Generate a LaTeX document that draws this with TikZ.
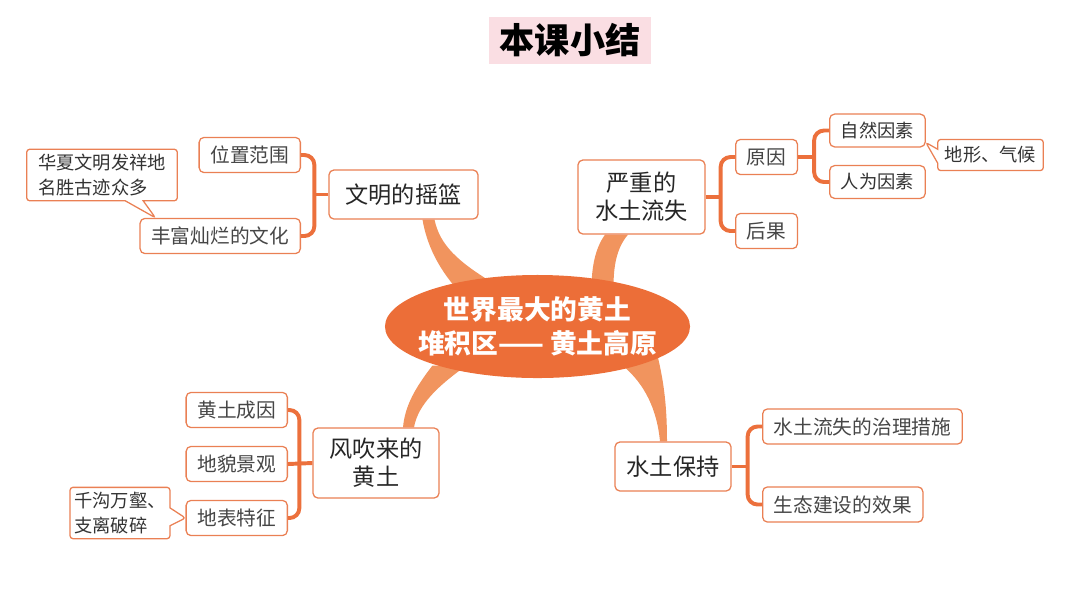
\documentclass[tikz,border=0pt]{standalone}
\usepackage{fontspec}
\setmainfont{Noto Sans CJK SC}
\usetikzlibrary{shapes.geometric, shapes.callouts, calc}

\definecolor{coreorange}{RGB}{236,110,56}
\definecolor{limborange}{RGB}{241,148,94}
\definecolor{linkorange}{RGB}{236,112,60}
\definecolor{boxline}{RGB}{234,128,84}
\definecolor{titlepink}{RGB}{250,222,227}
\definecolor{textgray}{RGB}{70,70,70}

\pgfdeclarelayer{bg}
\pgfsetlayers{bg,main}

\begin{document}
\begin{tikzpicture}[
  x=0.025cm, y=-0.025cm,
  mainbox/.style={rectangle, draw=boxline, line width=0.9pt, fill=white, rounded corners=3.5pt, align=center, text=black!85, font=\fontsize{16.5}{20}\selectfont, inner sep=0pt},
  subbox/.style={rectangle, draw=boxline, line width=0.9pt, fill=white, rounded corners=3.5pt, text=textgray, font=\fontsize{14}{17}\selectfont, minimum height=0.88cm, inner xsep=8pt, inner ysep=0pt},
  factor/.style={subbox, text=black!80, font=\fontsize{13}{16}\selectfont, minimum height=0.82cm},
  note/.style={rectangle callout, draw=boxline, line width=0.9pt, fill=white, rounded corners=2pt, align=left, text=black!80, font=\fontsize{13}{17.5}\selectfont, inner xsep=8pt, inner ysep=3.5pt, callout pointer width=0.45cm},
  bracket/.style={draw=linkorange, line width=2.8pt, rounded corners=7pt},
  limb/.style={fill=limborange}
]
\useasboundingbox (0,0) rectangle (1080,608);

% title
\node[fill=titlepink, minimum width=4.05cm, minimum height=1.175cm, font=\bfseries\fontsize{25}{30}\selectfont] (title) at (570,40.5) {本课小结};

% centre
\node[ellipse, fill=coreorange, minimum width=7.625cm, minimum height=2.575cm, inner xsep=-10pt, inner ysep=0pt, text=white, align=center, font=\bfseries\fontsize{19}{24}\selectfont] (core) at (537.5,326.5) {世界最大的黄土\\堆积区——\ 黄土高原};

% main topics
\node[mainbox, minimum width=3.725cm, minimum height=1.225cm] (cradle) at (403.5,194.5) {文明的摇篮};
\node[mainbox, minimum width=3.175cm, minimum height=1.85cm] (severe) at (641.5,197) {严重的\\水土流失};
\node[mainbox, minimum width=3.15cm, minimum height=1.75cm] (wind) at (376,463) {风吹来的\\黄土};
\node[mainbox, minimum width=2.9cm, minimum height=1.225cm] (keep) at (673,466.5) {水土保持};

% cradle branch
\node[subbox, anchor=east] (range) at (301,155) {位置范围};
\node[subbox, anchor=east] (culture) at (301,236) {丰富灿烂的文化};
\node[note, callout absolute pointer={($(culture.north west)+(16,0)$)}] (heritage) at (102,175) {华夏文明发祥地\\名胜古迹众多};

% soil loss branch
\node[subbox, anchor=west] (reason) at (735,157) {原因};
\node[subbox, anchor=west] (result) at (735,231) {后果};
\node[factor, anchor=west] (nature) at (829,130.5) {自然因素};
\node[factor, anchor=west] (human) at (829,182) {人为因素};
\node[note, inner xsep=5pt, inner ysep=5pt, callout pointer width=0.35cm, callout absolute pointer={($(nature.south east)+(0,-5)$)}] (terrain) at (990.5,155) {地形、气候};

% loess branch
\node[subbox, anchor=east] (origin) at (288,410) {黄土成因};
\node[subbox, anchor=east] (landform) at (288,464) {地貌景观};
\node[subbox, anchor=east] (surface) at (288,518) {地表特征};
\node[note, inner xsep=3pt, callout absolute pointer={(surface.west)}] (gully) at (120,513) {千沟万壑、\\支离破碎};

% conservation branch
\node[subbox, anchor=west] (measure) at (762,426.5) {水土流失的治理措施};
\node[subbox, anchor=west] (effect) at (762,504.5) {生态建设的效果};

% brackets
\coordinate (cj) at ($(cradle.west)+(-14,0)$);
\draw[bracket] (range.east) -| (cj) |- (culture.east);
\draw[bracket] (cradle.west) -- (cj);

\coordinate (sj) at ($(severe.east)+(15,0)$);
\draw[bracket] (reason.west) -| (sj) |- (result.west);
\draw[bracket] (severe.east) -- (sj);

\coordinate (rj) at ($(reason.east)+(16,0)$);
\draw[bracket] (nature.west) -| (rj) |- (human.west);
\draw[bracket] (reason.east) -- (rj);

\coordinate (wj) at ($(wind.west)+(-13,0)$);
\draw[bracket] (origin.east) -| (wj) |- (surface.east);
\draw[bracket] (landform.east) -- (wind.west);

\coordinate (kj) at ($(keep.east)+(16,0)$);
\draw[bracket] (measure.west) -| (kj) |- (effect.west);
\draw[bracket] (keep.east) -- (kj);

% tapered limbs from the centre
\begin{pgfonlayer}{bg}
\fill[limb] ($(core.center)+(-82,-39)$) .. controls +(-17,-20) and +(4.5,26) .. ($(cradle.south)+(19,0)$)
  -- ($(cradle.south)+(31,0)$) .. controls +(5.5,26) and +(-32,-20) .. ($(core.center)+(-47,-45)$) -- cycle;
\fill[limb] ($(core.center)+(54,-37)$) .. controls +(0,-22) and +(-10,14) .. ($(severe.south)+(-36.5,0)$)
  -- ($(severe.south)+(-13.5,0)$) .. controls +(-12,14) and +(0,-20) .. ($(core.center)+(76,-39)$) -- cycle;
\fill[limb] ($(core.center)+(-105,39)$) .. controls +(-17,22) and +(2,-22) .. ($(wind.north)+(27,0)$)
  -- ($(wind.north)+(38,0)$) .. controls +(4,-23) and +(-28,20) .. ($(core.center)+(-71,39)$) -- cycle;
\fill[limb] ($(core.center)+(85,39)$) .. controls +(22,18) and +(-3,-32) .. ($(keep.north)+(-13,0)$)
  -- ($(keep.north)+(-6,0)$) .. controls +(0,-32) and +(7,29) .. ($(core.center)+(120,29)$) -- cycle;
\end{pgfonlayer}

\end{tikzpicture}
\end{document}
